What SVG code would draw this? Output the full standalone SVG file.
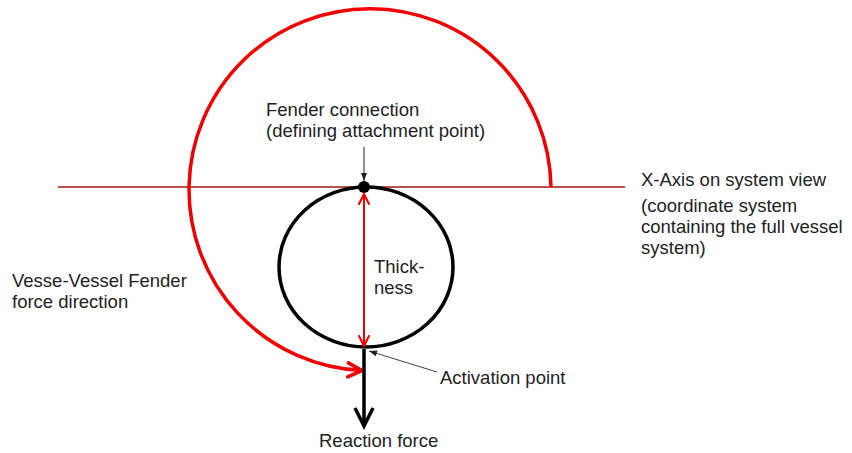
<svg xmlns="http://www.w3.org/2000/svg" width="852" height="453" viewBox="0 0 852 453">
<style>
text{font-family:"Liberation Sans",Arial,sans-serif;font-size:18.5px;fill:#222}
.red{fill:none;stroke:#f00000}
</style>
<defs>
<marker id="redBig" markerUnits="userSpaceOnUse" markerWidth="30" markerHeight="30" refX="0" refY="0" viewBox="-20 -15 30 30" orient="auto">
<path d="M-14,-7 L0,0 L-14,7" fill="none" stroke="#f00000" stroke-width="3.5" stroke-linecap="round" stroke-linejoin="miter"/>
</marker>
<marker id="redSmall" markerUnits="userSpaceOnUse" markerWidth="24" markerHeight="24" refX="0" refY="0" viewBox="-16 -12 24 24" orient="auto-start-reverse">
<path d="M-10,-5 L0,0 L-10,5" fill="none" stroke="#f00000" stroke-width="2" stroke-linecap="round"/>
</marker>
<marker id="blackBig" markerUnits="userSpaceOnUse" markerWidth="40" markerHeight="40" refX="0" refY="0" viewBox="-25 -20 40 40" orient="auto">
<path d="M-18,-9 L0,0 L-18,9" fill="none" stroke="#000" stroke-width="3.5" stroke-linejoin="miter"/>
</marker>
<marker id="thin" markerUnits="userSpaceOnUse" markerWidth="16" markerHeight="16" refX="0" refY="0" viewBox="-10 -8 16 16" orient="auto">
<path d="M-8,-3 L0,0 L-8,3 Z" fill="#222"/>
</marker>
</defs>

<g id="x-axis">
<line x1="58" y1="187" x2="625" y2="187" stroke="#a31515" stroke-width="1.3"/>
</g>

<g id="fender">
<ellipse cx="366" cy="267" rx="87" ry="80" fill="none" stroke="#000" stroke-width="3.5"/>
</g>

<g id="attachment-point">
<circle cx="364" cy="187" r="6" fill="#000"/>
</g>

<g id="connectors">
<path id="force-direction" class="red" d="M551,187 A181,181 0 1 0 362,370.5" stroke-width="3.5" marker-end="url(#redBig)"/>
<line id="thickness" x1="364" y1="194" x2="364" y2="346" class="red" stroke-width="2" marker-start="url(#redSmall)" marker-end="url(#redSmall)"/>
<line id="reaction" x1="364" y1="349" x2="364" y2="426" stroke="#000" stroke-width="3.5" marker-end="url(#blackBig)"/>
<line id="fender-pointer" x1="364" y1="147" x2="364" y2="181" stroke="#222" stroke-width="1" marker-end="url(#thin)"/>
<line id="activation-pointer" x1="437" y1="372" x2="369" y2="351" stroke="#444" stroke-width="1" marker-end="url(#thin)"/>
</g>

<g id="labels">
<text x="266" y="116">Fender connection</text>
<text x="266" y="137">(defining attachment point)</text>
<text x="641" y="186">X-Axis on system view</text>
<text x="641" y="212">(coordinate system</text>
<text x="641" y="233">containing the full vessel</text>
<text x="641" y="254">system)</text>
<text x="374" y="273">Thick-</text>
<text x="374" y="294">ness</text>
<text x="12" y="287">Vesse-Vessel Fender</text>
<text x="12" y="308">force direction</text>
<text x="440" y="384">Activation point</text>
<text x="319" y="447">Reaction force</text>
</g>
</svg>
